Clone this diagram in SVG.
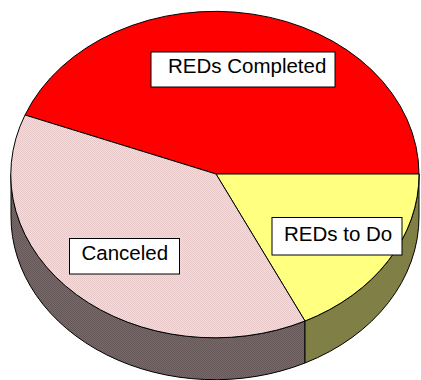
<svg xmlns="http://www.w3.org/2000/svg" width="421" height="380" viewBox="0 0 421 380">
<defs>
<pattern id="pinkTex" width="2" height="2" patternUnits="userSpaceOnUse">
<rect width="2" height="2" fill="#F2DEDE"/>
<rect width="1" height="1" fill="#E6C8C8"/>
<rect x="1" y="1" width="1" height="1" fill="#E6C8C8"/>
</pattern>
<pattern id="darkTex" width="2" height="2" patternUnits="userSpaceOnUse">
<rect width="2" height="2" fill="#766A6A"/>
<rect width="1" height="1" fill="#665858"/>
<rect x="1" y="1" width="1" height="1" fill="#665858"/>
</pattern>
</defs>
<style>
.edge{stroke:#000;stroke-width:1;stroke-linejoin:round}
.lbl rect{fill:#fff;stroke:#000;stroke-width:1}
.lbl text{font-family:"Liberation Sans",Arial,sans-serif;font-size:20.5px;fill:#000}
</style>
<rect width="421" height="380" fill="#fff"/>
<g id="side-canceled">
<path class="edge" fill="url(#darkTex)" d="M11,174 A204,163 0 0 0 305,321 L305,363 A204,163 0 0 1 11,216 Z"/>
</g>
<g id="side-todo">
<path class="edge" fill="#808046" d="M305,321 A204,163 0 0 0 419,174 L419,216 A204,163 0 0 1 305,363 Z"/>
</g>
<g id="slice-completed">
<path class="edge" fill="#FF0000" d="M216,174 L419,174 A204,163 0 0 0 25,115 Z"/>
</g>
<g id="slice-todo">
<path class="edge" fill="#FFFF80" d="M216,174 L419,174 A204,163 0 0 1 305,321 Z"/>
</g>
<g id="slice-canceled">
<path class="edge" fill="url(#pinkTex)" d="M216,174 L305,321 A204,163 0 0 1 25,115 Z"/>
</g>
<g id="label-completed" class="lbl">
<rect x="151" y="52" width="184" height="35"/>
<text x="168" y="73">REDs Completed</text>
</g>
<g id="label-todo" class="lbl">
<rect x="272" y="217.5" width="130" height="37.5"/>
<text x="284" y="241">REDs to Do</text>
</g>
<g id="label-canceled" class="lbl">
<rect x="69.5" y="238.5" width="110" height="35.5"/>
<text x="81.5" y="259.5">Canceled</text>
</g>
</svg>
